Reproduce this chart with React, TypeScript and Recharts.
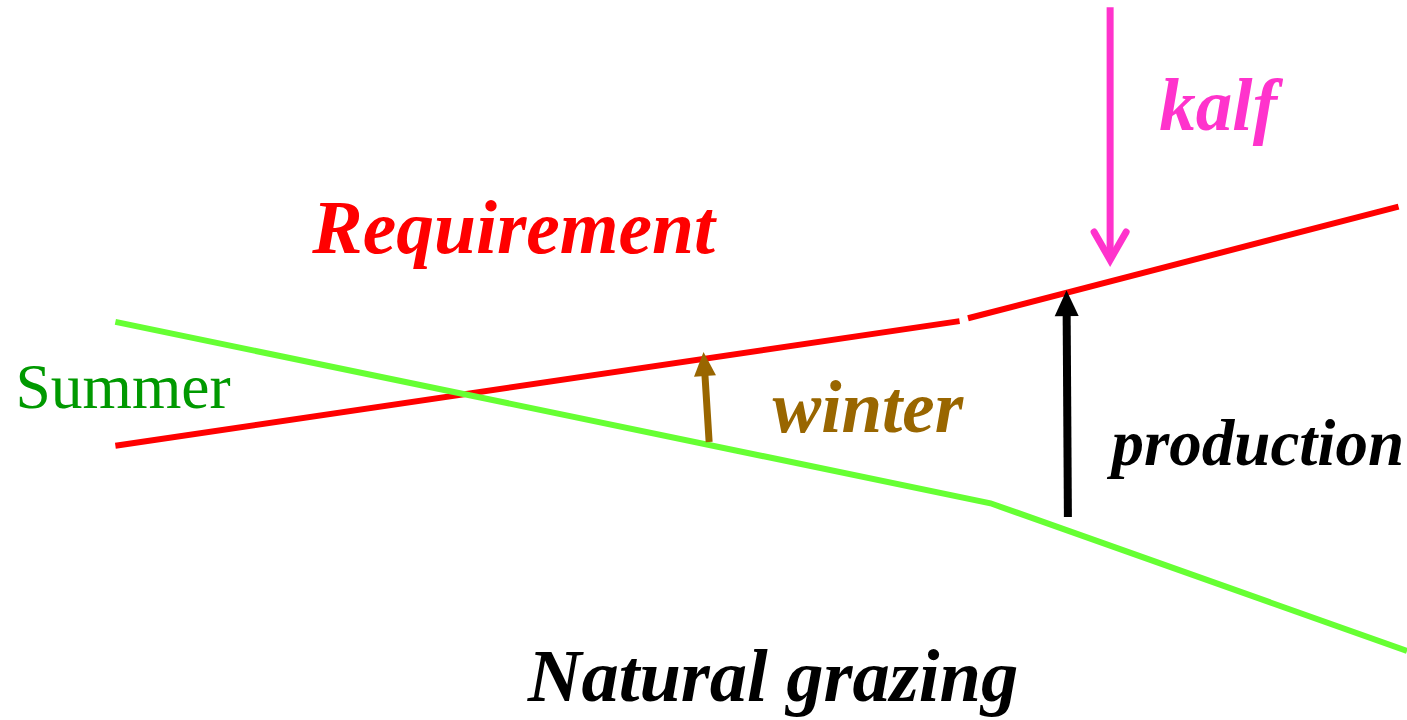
import React from 'react';
import { LineChart, Line, XAxis, YAxis, ReferenceDot } from 'recharts';

type Pt = { x: number; y: number };

// requirement line (two pieces with a small gap) and natural grazing line
const requirementWinter: Pt[] = [
  { x: 8.2, y: 38.1 },
  { x: 68.2, y: 55.4 },
];
const requirementSummer: Pt[] = [
  { x: 68.8, y: 55.8 },
  { x: 99.4, y: 71.3 },
];
const naturalGrazing: Pt[] = [
  { x: 8.2, y: 55.3 },
  { x: 70.4, y: 30.1 },
  { x: 100, y: 9.6 },
];

// arrows: tail first, tip last
const winterArrow: Pt[] = [
  { x: 50.4, y: 38.6 },
  { x: 50.0, y: 51.1 },
];
const productionArrow: Pt[] = [
  { x: 75.9, y: 28.2 },
  { x: 75.8, y: 59.7 },
];
const kalfArrow: Pt[] = [
  { x: 78.9, y: 99.0 },
  { x: 78.9, y: 63.9 },
];

const labelTexts = ['Requirement', 'Summer', 'winter', 'production', 'kalf', 'Natural grazing'];
const labelX = [22.2, 1.1, 54.9, 79.0, 82.4, 37.5];
const labelY = [64.9, 43.3, 40.0, 35.4, 81.9, 2.6];

const labelStyle = [
  { fill: '#ff0000', fontSize: 75.5, bold: true },
  { fill: '#009900', fontSize: 63.5, bold: false },
  { fill: '#996600', fontSize: 73, bold: true },
  { fill: '#000000', fontSize: 65, bold: true },
  { fill: '#ff33cc', fontSize: 73, bold: true },
  { fill: '#000000', fontSize: 74.5, bold: true },
];

const FONT = '"Liberation Serif", "Times New Roman", serif';

function arrowDot(color: string, width: number, headLen: number, headHalf: number, open: boolean) {
  let tail = { x: 0, y: 0 };
  return (p: any) => {
    if (p.index === 0) {
      tail = { x: p.cx, y: p.cy };
      return <g key="tail" />;
    }
    const tip = { x: p.cx, y: p.cy };
    const dx = tip.x - tail.x;
    const dy = tip.y - tail.y;
    const len = Math.sqrt(dx * dx + dy * dy) || 1;
    const ux = dx / len;
    const uy = dy / len;
    const bx = tip.x - ux * headLen;
    const by = tip.y - uy * headLen;
    const nx = -uy;
    const ny = ux;
    if (open) {
      return (
        <g key="head">
          <line x1={tail.x} y1={tail.y} x2={tip.x} y2={tip.y} stroke={color} strokeWidth={width} />
          <polyline
            points={`${bx + nx * headHalf},${by + ny * headHalf} ${tip.x},${tip.y} ${bx - nx * headHalf},${by - ny * headHalf}`}
            fill="none"
            stroke={color}
            strokeWidth={width}
            strokeLinecap="round"
            strokeLinejoin="miter"
          />
        </g>
      );
    }
    return (
      <g key="head">
        <line x1={tail.x} y1={tail.y} x2={bx + ux * 2} y2={by + uy * 2} stroke={color} strokeWidth={width} />
        <polygon
          points={`${tip.x},${tip.y} ${bx + nx * headHalf},${by + ny * headHalf} ${bx - nx * headHalf},${by - ny * headHalf}`}
          fill={color}
        />
      </g>
    );
  };
}

export default function App() {
  return (
    <div style={{ position: 'absolute', left: 0, top: 0, width: 1407, height: 720, background: '#fff' }}>
      <LineChart width={1407} height={720} margin={{ top: 0, right: 0, bottom: 0, left: 0 }}>
        <XAxis type="number" dataKey="x" domain={[0, 100]} hide />
        <YAxis type="number" dataKey="y" domain={[0, 100]} hide />
        <Line data={requirementWinter} dataKey="y" type="linear" stroke="#ff0000" strokeWidth={6} dot={false} activeDot={false} isAnimationActive={false} />
        <Line data={requirementSummer} dataKey="y" type="linear" stroke="#ff0000" strokeWidth={6} dot={false} activeDot={false} isAnimationActive={false} />
        <Line data={naturalGrazing} dataKey="y" type="linear" stroke="#66ff33" strokeWidth={6} dot={false} activeDot={false} isAnimationActive={false} />
        <Line data={winterArrow} dataKey="y" type="linear" stroke="none" activeDot={false} dot={arrowDot('#996600', 7, 24, 11, false)} isAnimationActive={false} />
        <Line data={productionArrow} dataKey="y" type="linear" stroke="none" activeDot={false} dot={arrowDot('#000000', 8, 26, 12, false)} isAnimationActive={false} />
        <Line data={kalfArrow} dataKey="y" type="linear" stroke="none" activeDot={false} dot={arrowDot('#ff33cc', 7, 28, 16, true)} isAnimationActive={false} />
        {labelTexts.map((t, i) => (
          <ReferenceDot
            key={t}
            x={labelX[i]}
            y={labelY[i]}
            r={0}
            shape={(p: any) => (
              <text
                x={p.cx}
                y={p.cy}
                fill={labelStyle[i].fill}
                fontSize={labelStyle[i].fontSize}
                fontFamily={FONT}
                fontWeight={labelStyle[i].bold ? 'bold' : 'normal'}
                fontStyle={labelStyle[i].bold ? 'italic' : 'normal'}
              >
                {t}
              </text>
            )}
          />
        ))}
      </LineChart>
    </div>
  );
}
